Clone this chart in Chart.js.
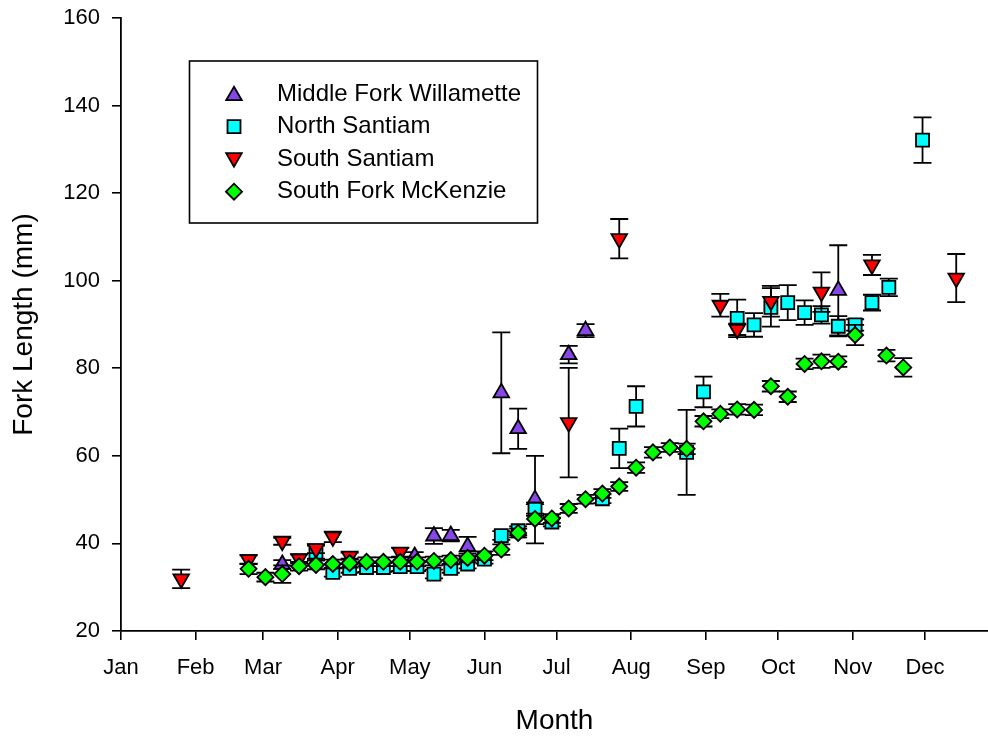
<!DOCTYPE html>
<html>
<head>
<meta charset="utf-8">
<title>Fork Length by Month</title>
<script src="https://cdn.jsdelivr.net/npm/chart.js@4.4.1/dist/chart.umd.min.js"></script>
<style>
  html, body { margin: 0; padding: 0; background: #ffffff; }
  canvas { display: block; }
</style>
</head>
<body>
<canvas id="chart" width="988" height="738"></canvas>
<script>
// Month axis: tick positions are day-of-year at the first of each month
const monthLabels = ['Jan', 'Feb', 'Mar', 'Apr', 'May', 'Jun', 'Jul', 'Aug', 'Sep', 'Oct', 'Nov', 'Dec'];
const monthStartDays = [0, 31, 59, 90, 120, 151, 181, 212, 243, 273, 304, 334];
const yTickValues = [20, 40, 60, 80, 100, 120, 140, 160];

const seriesNames = ['Middle Fork Willamette', 'North Santiam', 'South Santiam', 'South Fork McKenzie'];

// Middle Fork Willamette: day of year, mean fork length (mm), error
const mfwDays  = [67, 122, 130, 137, 144, 158, 165, 172, 186, 193, 298];
const mfwMeans = [35.2, 37.0, 41.7, 41.8, 39.3, 74.4, 66.2, 50.0, 83.1, 88.6, 97.8];
const mfwErr   = [1.0, 1.0, 1.8, 1.3, 2.2, 13.8, 4.6, 10.0, 2.0, 1.5, 10.3];

// North Santiam
const nsDays  = [81, 88, 95, 102, 109, 116, 123, 130, 137, 144, 151, 158, 165, 172, 179, 200, 207, 214, 235, 242, 256, 263, 270, 277, 284, 291, 298, 305, 312, 319, 333];
const nsMeans = [38.0, 33.4, 34.3, 34.5, 34.5, 34.7, 34.7, 33.0, 34.3, 35.3, 36.4, 41.8, 42.9, 47.8, 44.9, 50.2, 61.7, 71.3, 60.8, 74.6, 91.4, 89.9, 93.9, 95.0, 92.7, 92.2, 89.6, 89.9, 95.0, 98.5, 132.1];
const nsErr   = [1.5, 1.0, 1.0, 1.0, 1.0, 1.0, 1.0, 1.0, 1.0, 1.0, 1.0, 1.0, 1.0, 1.5, 1.0, 1.0, 4.5, 4.6, 9.7, 3.5, 4.3, 2.7, 4.4, 4.0, 2.8, 2.0, 2.3, 1.3, 1.8, 2.0, 5.2];

// South Santiam
const ssDays  = [25, 53, 67, 74, 81, 88, 95, 116, 186, 207, 249, 256, 270, 291, 312, 347];
const ssMeans = [31.9, 36.3, 40.5, 36.5, 38.8, 41.5, 37.1, 38.0, 67.6, 109.6, 94.4, 88.9, 95.3, 97.4, 103.6, 100.6];
const ssErr   = [2.1, 1.0, 0.8, 1.0, 1.0, 1.2, 0.8, 1.0, 12.5, 4.5, 2.6, 1.3, 3.5, 4.5, 2.3, 5.5];

// South Fork McKenzie
const sfmDays  = [53, 60, 67, 74, 81, 88, 95, 102, 109, 116, 123, 130, 137, 144, 151, 158, 165, 172, 179, 186, 193, 200, 207, 214, 221, 228, 235, 242, 249, 256, 263, 270, 277, 284, 291, 298, 305, 318, 325];
const sfmMeans = [34.2, 32.3, 33.0, 34.8, 35.1, 35.3, 35.5, 35.8, 35.8, 35.8, 35.8, 36.0, 36.2, 36.7, 37.2, 38.6, 42.4, 45.6, 45.7, 48.0, 50.1, 51.4, 53.0, 57.3, 60.8, 61.9, 61.6, 67.9, 69.6, 70.6, 70.5, 75.9, 73.5, 81.0, 81.6, 81.5, 87.6, 82.9, 80.2];
const sfmErr   = [1.2, 1.0, 2.0, 1.0, 1.0, 1.0, 1.0, 1.0, 1.0, 1.0, 1.0, 1.0, 1.0, 1.0, 1.0, 1.2, 1.0, 1.2, 1.0, 1.0, 1.0, 1.0, 1.0, 1.2, 1.2, 1.0, 1.2, 1.2, 1.0, 1.2, 1.2, 1.2, 1.2, 1.2, 1.5, 1.2, 2.3, 1.3, 2.1];

const FONT = '"Liberation Sans", Arial, Helvetica, sans-serif';
Chart.defaults.font.family = FONT;
Chart.defaults.color = '#000000';

function toPoints(days, means) {
  return days.map((d, i) => ({ x: d, y: means[i] }));
}

const markerStyles = [
  { pointStyle: 'triangle', radius: 9.0, rotation: 0,   fill: '#8747e8' },
  { pointStyle: 'rect',     radius: 9.2, rotation: 0,   fill: '#00ffff' },
  { pointStyle: 'triangle', radius: 9.0, rotation: 180, fill: '#ff0000' },
  { pointStyle: 'rectRot',  radius: 8.0, rotation: 0,   fill: '#00ff00' }
];
const MARKER_BORDER = 1.8;

function makeDataset(idx, days, means, errs, order) {
  const m = markerStyles[idx];
  return {
    label: seriesNames[idx],
    data: toPoints(days, means),
    errors: errs,
    order: order,
    showLine: false,
    pointStyle: m.pointStyle,
    pointRadius: m.radius,
    pointHoverRadius: m.radius,
    pointRotation: m.rotation,
    backgroundColor: m.fill,
    pointBackgroundColor: m.fill,
    pointBorderColor: '#000000',
    pointBorderWidth: MARKER_BORDER,
    pointHoverBorderWidth: MARKER_BORDER
  };
}

// Vertical error bars with caps, drawn just before each series' symbols
const CAP_HALF = 9;
const errorBarPlugin = {
  id: 'errorBars',
  beforeDatasetDraw(chart, args) {
    const ds = chart.data.datasets[args.index];
    if (!ds.errors) return;
    const { ctx } = chart;
    const xs = chart.scales.x, ys = chart.scales.y;
    ctx.save();
    ctx.strokeStyle = '#000000';
    ctx.lineWidth = 1.8;
    ds.data.forEach((p, i) => {
      const e = ds.errors[i];
      if (!e) return;
      const px = xs.getPixelForValue(p.x);
      const yTop = ys.getPixelForValue(p.y + e);
      const yBot = ys.getPixelForValue(p.y - e);
      ctx.beginPath();
      ctx.moveTo(px, yTop); ctx.lineTo(px, yBot);
      ctx.moveTo(px - CAP_HALF, yTop); ctx.lineTo(px + CAP_HALF, yTop);
      ctx.moveTo(px - CAP_HALF, yBot); ctx.lineTo(px + CAP_HALF, yBot);
      ctx.stroke();
    });
    ctx.restore();
  }
};

// Boxed legend inside the plot area
const boxLegendPlugin = {
  id: 'boxLegend',
  afterDraw(chart) {
    const { ctx } = chart;
    const box = { left: 189.5, top: 61, right: 537.5, bottom: 223 };
    const rowY = [94.2, 126.7, 159.2, 191.7];
    const markerX = 234;
    const textX = 277;
    ctx.save();
    ctx.fillStyle = '#ffffff';
    ctx.fillRect(box.left, box.top, box.right - box.left, box.bottom - box.top);
    ctx.strokeStyle = '#000000';
    ctx.lineWidth = 1.6;
    ctx.strokeRect(box.left, box.top, box.right - box.left, box.bottom - box.top);
    seriesNames.forEach((name, i) => {
      const m = markerStyles[i];
      ctx.fillStyle = m.fill;
      ctx.strokeStyle = '#000000';
      ctx.lineWidth = MARKER_BORDER;
      Chart.helpers.drawPoint(ctx, {
        pointStyle: m.pointStyle,
        radius: m.radius,
        rotation: m.rotation,
        borderWidth: MARKER_BORDER
      }, markerX, rowY[i] + (m.pointStyle === 'triangle' ? (m.rotation ? -1.5 : 1.5) : 0));
      ctx.fillStyle = '#000000';
      ctx.font = '24px ' + FONT;
      ctx.textAlign = 'left';
      ctx.textBaseline = 'middle';
      ctx.fillText(name, textX, rowY[i]);
    });
    ctx.restore();
  }
};

const axisGrid = {
  display: true,
  drawOnChartArea: false,
  drawTicks: true,
  tickLength: 9,
  color: '#000000',
  lineWidth: 1.6
};
const axisBorder = { display: true, color: '#000000', width: 1.8 };

new Chart(document.getElementById('chart'), {
  type: 'scatter',
  data: {
    datasets: [
      makeDataset(0, mfwDays, mfwMeans, mfwErr, 3),
      makeDataset(1, nsDays, nsMeans, nsErr, 2),
      makeDataset(2, ssDays, ssMeans, ssErr, 1),
      makeDataset(3, sfmDays, sfmMeans, sfmErr, 0)
    ]
  },
  options: {
    responsive: false,
    devicePixelRatio: 1,
    animation: false,
    events: [],
    layout: {
      autoPadding: false,
      padding: { top: 18, right: 0, bottom: 0, left: 0 }
    },
    plugins: {
      legend: { display: false },
      tooltip: { enabled: false }
    },
    scales: {
      x: {
        type: 'linear',
        min: 0,
        max: 360.2,
        grid: axisGrid,
        border: axisBorder,
        afterBuildTicks(scale) {
          scale.ticks = monthStartDays.map(v => ({ value: v }));
        },
        afterFit(scale) {
          scale.height = 107;
          scale.paddingLeft = 0;
          scale.paddingRight = 0;
        },
        ticks: {
          autoSkip: false,
          maxRotation: 0,
          padding: 15,
          font: { size: 22 },
          color: '#000000',
          callback: (value, index) => monthLabels[index]
        },
        title: {
          display: true,
          text: 'Month',
          font: { size: 28 },
          color: '#000000',
          padding: { top: 0, bottom: 0 }
        }
      },
      y: {
        type: 'linear',
        min: 20,
        max: 160,
        grid: axisGrid,
        border: axisBorder,
        afterBuildTicks(scale) {
          scale.ticks = yTickValues.map(v => ({ value: v }));
        },
        afterFit(scale) {
          scale.width = 121;
          scale.paddingTop = 0;
          scale.paddingBottom = 0;
        },
        ticks: {
          padding: 12,
          font: { size: 22 },
          color: '#000000'
        },
        title: {
          display: true,
          text: 'Fork Length (mm)',
          font: { size: 28 },
          color: '#000000',
          padding: { top: 7, bottom: 0 }
        }
      }
    }
  },
  plugins: [errorBarPlugin, boxLegendPlugin]
});
</script>
</body>
</html>
